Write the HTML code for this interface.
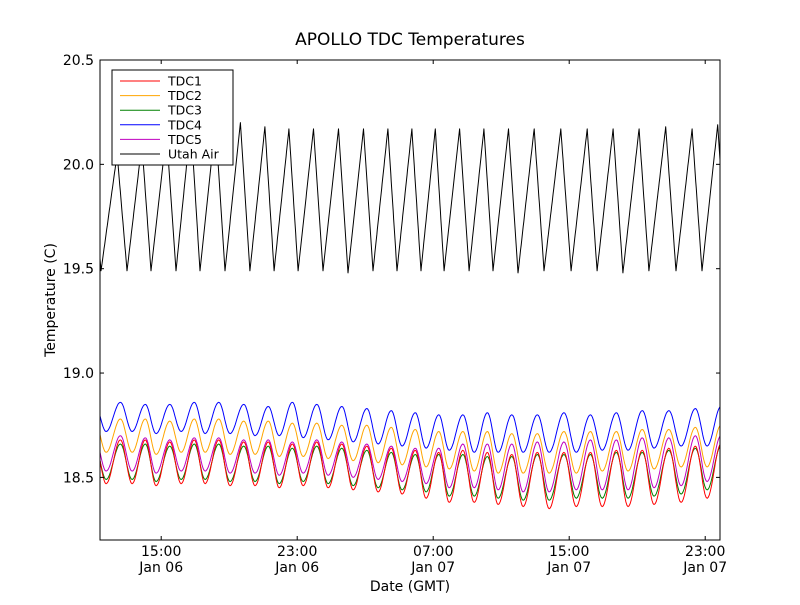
<!DOCTYPE html>
<html><head><meta charset="utf-8"><style>
body{margin:0;background:#fff;}
svg text{font-family:"DejaVu Sans","Liberation Sans",sans-serif;}
</style></head><body>
<svg id="chart" width="800" height="600" xmlns="http://www.w3.org/2000/svg">
<rect width="800" height="600" fill="#fff"/>
<text x="410" y="45" font-size="17" text-anchor="middle">APOLLO TDC Temperatures</text>
<g id="plot"></g>
<rect x="100" y="60" width="620" height="480" fill="none" stroke="#000" stroke-width="1"/>
<g id="axes"></g>
<text x="410" y="591" font-size="14" text-anchor="middle">Date (GMT)</text>
<text transform="translate(55,300) rotate(-90)" font-size="14" text-anchor="middle">Temperature (C)</text>
<g id="legend"></g>
</svg>
<script>
// data
const seriesNames=["TDC1","TDC2","TDC3","TDC4","TDC5","Utah Air"];
const seriesColors=["#ff0000","#ffa500","#008000","#0000ff","#bf00bf","#000000"];
const yTicks=[18.5,19.0,19.5,20.0,20.5];
const xTickHours=[3.6,11.6,19.6,27.6,35.6];
const xTickLabels1=["15:00","23:00","07:00","15:00","23:00"];
const xTickLabels2=["Jan 06","Jan 06","Jan 07","Jan 07","Jan 07"];
// hours since start (11:25 Jan 06) of each Utah Air minimum
const airTroughHours=[0.06,1.59,3.0,4.47,5.88,7.35,8.82,10.24,11.65,13.12,14.59,16.06,17.47,18.88,20.24,21.71,23.12,24.59,26.12,27.71,29.24,30.76,32.29,33.88,35.41,36.9];
const tdcLagHours=0.3;
const tdc1Lo=[18.47,18.47,18.46,18.47,18.47,18.46,18.46,18.45,18.46,18.45,18.44,18.43,18.42,18.40,18.38,18.38,18.37,18.36,18.35,18.36,18.36,18.36,18.37,18.38,18.40,18.40];
const tdc1Hi=[18.68,18.68,18.67,18.68,18.68,18.67,18.67,18.66,18.67,18.66,18.65,18.64,18.63,18.62,18.63,18.62,18.61,18.62,18.62,18.62,18.63,18.63,18.64,18.65,18.66,18.65];
const tdc3Lo=[18.49,18.49,18.48,18.49,18.49,18.48,18.48,18.47,18.48,18.47,18.46,18.45,18.44,18.43,18.41,18.41,18.40,18.39,18.39,18.40,18.40,18.40,18.41,18.42,18.44,18.44];
const tdc3Hi=[18.66,18.66,18.65,18.66,18.66,18.65,18.65,18.64,18.65,18.64,18.63,18.62,18.61,18.61,18.61,18.60,18.60,18.61,18.61,18.61,18.62,18.62,18.63,18.64,18.65,18.64];
const tdc5Lo=[18.53,18.53,18.52,18.53,18.53,18.52,18.52,18.51,18.52,18.51,18.50,18.49,18.48,18.47,18.45,18.45,18.44,18.43,18.43,18.44,18.44,18.44,18.45,18.46,18.48,18.48];
const tdc5Hi=[18.70,18.69,18.68,18.69,18.69,18.68,18.68,18.67,18.68,18.67,18.66,18.65,18.64,18.64,18.66,18.66,18.66,18.67,18.67,18.68,18.68,18.69,18.69,18.70,18.70,18.70];
const tdc2Lo=[18.62,18.62,18.61,18.62,18.62,18.61,18.61,18.60,18.60,18.59,18.58,18.57,18.56,18.55,18.54,18.53,18.52,18.52,18.52,18.52,18.53,18.53,18.54,18.55,18.55,18.55];
const tdc2Hi=[18.78,18.78,18.77,18.78,18.78,18.77,18.77,18.76,18.76,18.75,18.75,18.74,18.73,18.72,18.72,18.72,18.71,18.71,18.72,18.72,18.72,18.73,18.73,18.74,18.75,18.75];
const tdc4Lo=[18.72,18.72,18.71,18.72,18.71,18.71,18.70,18.70,18.69,18.68,18.67,18.66,18.65,18.64,18.63,18.62,18.62,18.62,18.62,18.62,18.63,18.63,18.64,18.65,18.65,18.65];
const tdc4Hi=[18.86,18.85,18.85,18.86,18.86,18.85,18.84,18.86,18.85,18.84,18.83,18.82,18.81,18.80,18.80,18.81,18.80,18.80,18.81,18.80,18.81,18.82,18.82,18.83,18.84,18.84];
const airLo=[19.49,19.49,19.49,19.49,19.49,19.49,19.49,19.49,19.49,19.49,19.48,19.49,19.49,19.49,19.49,19.49,19.49,19.48,19.49,19.49,19.49,19.48,19.49,19.49,19.49,19.49];
const airHi=[20.05,20.10,20.15,20.20,20.20,20.20,20.18,20.17,20.17,20.17,20.17,20.17,20.17,20.17,20.17,20.17,20.17,20.17,20.17,20.17,20.17,20.17,20.18,20.17,20.19,20.18];

const X0=100,X1=720,Y0=60,Y1=540,HMAX=36.47,VMIN=18.2,VMAX=20.5;
const xs=h=>X0+(h/HMAX)*(X1-X0);
const ys=v=>Y1-(v-VMIN)/(VMAX-VMIN)*(Y1-Y0);
const NS="http://www.w3.org/2000/svg";
function mk(tag,attrs,parent){const e=document.createElementNS(NS,tag);for(const k in attrs)e.setAttribute(k,attrs[k]);parent.appendChild(e);return e;}

function tdcShape(p){ return p<0.55?(1-Math.cos(Math.PI*p/0.55))/2:(1+Math.cos(Math.PI*(p-0.55)/0.45))/2; }
function airShape(p){ return p<0.62?p/0.62:1-(p-0.62)/0.38; }

function buildPts(lo,hi,lag,shape,steps){
  const pts=[];
  const n=airTroughHours.length;
  for(let i=-1;i<n;i++){
    const ii=Math.max(0,i);
    const t0=i<0?airTroughHours[0]-(airTroughHours[1]-airTroughHours[0]):airTroughHours[i];
    const t1=i+1<n?airTroughHours[i+1]:airTroughHours[i]+(airTroughHours[i]-airTroughHours[i-1]);
    const len=t1-t0;
    const l=lo[ii],u=hi[ii],nl=lo[Math.min(ii+1,lo.length-1)];
    for(let s=0;s<steps;s++){
      const p=s/steps,h=t0+lag+p*len;
      if(h<-0.5||h>HMAX+0.5)continue;
      let v=shape(p);
      const base=p<0.6?l:nl;
      pts.push(xs(h).toFixed(1)+","+ys(base+(u-base)*v).toFixed(1));
    }
  }
  return pts.join(" ");
}
const plot=document.getElementById("plot");
const clip=mk("clipPath",{id:"pc"},mk("defs",{},plot));
mk("rect",{x:X0,y:Y0,width:X1-X0,height:Y1-Y0},clip);
const g=mk("g",{"clip-path":"url(#pc)"},plot);
const los=[tdc1Lo,tdc2Lo,tdc3Lo,tdc4Lo,tdc5Lo,airLo];
const his=[tdc1Hi,tdc2Hi,tdc3Hi,tdc4Hi,tdc5Hi,airHi];
const order=[3,1,4,2,0,5];
order.forEach(i=>{
  const isAir=i===5;
  const pl=mk("polyline",{points:isAir?buildPts(los[i],his[i],0,airShape,50):buildPts(los[i],his[i],tdcLagHours,tdcShape,24),fill:"none",stroke:seriesColors[i],"stroke-width":"1","stroke-linejoin":"round"},g);
  
  
});

const axes=document.getElementById("axes");
yTicks.forEach(v=>{
  const y=ys(v);
  mk("line",{x1:X0,x2:X0+4,y1:y,y2:y,stroke:"#000"},axes);
  mk("line",{x1:X1,x2:X1-4,y1:y,y2:y,stroke:"#000"},axes);
  const t=mk("text",{x:X0-6,y:y+5,"font-size":"14","text-anchor":"end"},axes);
  t.textContent=v.toFixed(1);
  
  
});
xTickHours.forEach((h,i)=>{
  const x=xs(h);
  mk("line",{x1:x,x2:x,y1:Y1,y2:Y1-4,stroke:"#000"},axes);
  mk("line",{x1:x,x2:x,y1:Y0,y2:Y0+4,stroke:"#000"},axes);
  const t=mk("text",{x:x,y:Y1+16,"font-size":"14","text-anchor":"middle"},axes);
  t.textContent=xTickLabels1[i];
  
  
  const t2=mk("text",{x:x,y:Y1+32,"font-size":"14","text-anchor":"middle"},axes);
  t2.textContent=xTickLabels2[i];
  
  
});

const lg=document.getElementById("legend");
mk("rect",{x:112,y:70,width:121,height:95,fill:"#fff",stroke:"#000"},lg);
seriesNames.forEach((n,i)=>{
  const y=81+i*14.6;
  const ln=mk("line",{x1:120,x2:160,y1:y,y2:y,stroke:seriesColors[i],"stroke-width":"1"},lg);
  
  
  const t=mk("text",{x:168,y:y+4.5,"font-size":"12.5"},lg);
  t.textContent=n;
  
  
});
</script>
</body></html>
